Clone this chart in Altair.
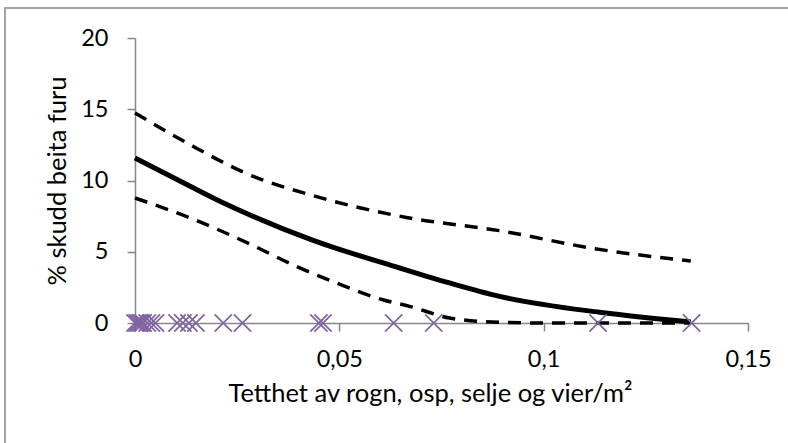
import altair as alt
import pandas as pd

# Fitted curve and 95% confidence band (percent of pine shoots browsed)
fit_x = [0, 0.0135, 0.02, 0.028, 0.0436, 0.0648, 0.077, 0.0892, 0.1137, 0.136]
fit_y = [11.58, 9.59, 8.65, 7.6, 5.8, 3.86, 2.81, 1.87, 0.75, 0.07]

upper_x = [0, 0.0135, 0.028, 0.0428, 0.0664, 0.0892, 0.112, 0.136]
upper_y = [14.74, 12.51, 10.4, 9.0, 7.41, 6.48, 5.24, 4.35]

lower_x = [0, 0.0135, 0.028, 0.0395, 0.0494, 0.0606, 0.0672, 0.077, 0.089, 0.1, 0.113, 0.136]
lower_y = [8.77, 7.37, 5.56, 3.97, 2.8, 1.63, 1.17, 0.35, 0.05, 0, 0, 0]

# Observed plots (density of rowan, aspen, willow per m2), all with 0 % browsing
obs_x = [0, 0.0005, 0.001, 0.0015, 0.002, 0.003, 0.004, 0.005,
         0.0103, 0.0117, 0.0132, 0.0149, 0.0216, 0.0263,
         0.045, 0.046, 0.0633, 0.0731, 0.1133, 0.1362]
obs_y = [0] * len(obs_x)

fit = pd.DataFrame({"x": fit_x, "y": fit_y})
upper = pd.DataFrame({"x": upper_x, "y": upper_y})
lower = pd.DataFrame({"x": lower_x, "y": lower_y})
obs = pd.DataFrame({"x": obs_x, "y": obs_y})

FONT = "Lato"

x_enc = alt.X(
    "x:Q",
    scale=alt.Scale(domain=[0, 0.15], nice=False, zero=False),
    axis=alt.Axis(
        values=[0, 0.05, 0.1, 0.15],
        labelExpr="replace(format(datum.value, ''), '.', ',')",
        title="Tetthet av rogn, osp, selje og vier/m²",
        titleX=295,
    ),
)
y_enc = alt.Y(
    "y:Q",
    scale=alt.Scale(domain=[0, 20], nice=False),
    axis=alt.Axis(values=[0, 5, 10, 15, 20], title="% skudd beita furu"),
)

# Outer frame of the chart area
frame = alt.Chart(pd.DataFrame({"a": [0]})).mark_rect(
    fillOpacity=0, stroke="#888888", strokeWidth=1.5
).encode(
    x=alt.value(-130), x2=alt.value(900),
    y=alt.value(-30), y2=alt.value(600),
)

band_style = dict(color="black", strokeWidth=3.5, strokeDash=[13, 9], interpolate="monotone")

upper_line = alt.Chart(upper).mark_line(**band_style).encode(x=x_enc, y=y_enc)
lower_line = alt.Chart(lower).mark_line(**band_style).encode(x=x_enc, y=y_enc)
fit_line = alt.Chart(fit).mark_line(color="black", strokeWidth=5, interpolate="monotone").encode(
    x=x_enc, y=y_enc
)

points = alt.Chart(obs).mark_point(
    shape="M-1,-1L1,1M-1,1L1,-1",
    filled=False,
    stroke="#8064A2",
    strokeWidth=1.7,
    size=300,
    opacity=1,
).encode(x=x_enc, y=y_enc)

chart = (
    alt.layer(frame, upper_line, lower_line, fit_line, points)
    .properties(
        width=613,
        height=285,
        autosize=alt.AutoSizeParams(type="none"),
        padding={"left": 135, "top": 38, "right": 40, "bottom": 120},
        background="white",
    )
    .configure_view(stroke=None)
    .configure_axis(
        grid=False,
        domainColor="#868686",
        domainWidth=1.5,
        tickColor="#868686",
        tickWidth=1.5,
        tickSize=8,
        labelFont=FONT,
        labelFontSize=23.5,
        labelColor="black",
        titleFont=FONT,
        titleFontSize=25.5,
        titleFontWeight="normal",
        titleColor="black",
    )
    .configure_axisX(titlePadding=11, labelPadding=16, labelFlush=False)
    .configure_axisY(titlePadding=10, labelPadding=19)
)

chart.save("out.html", embed_options={"renderer": "svg", "actions": False})
